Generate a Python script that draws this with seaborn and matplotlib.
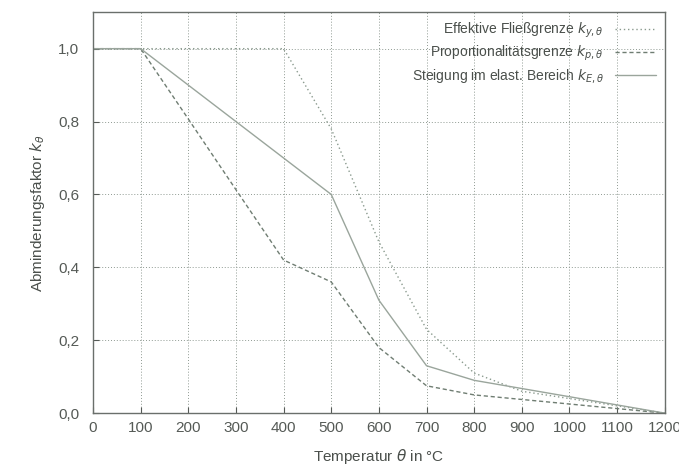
import numpy as np
import pandas as pd
import seaborn as sns
import matplotlib.pyplot as plt
from matplotlib.ticker import FuncFormatter

# temperatures and reduction factors
temp = [0, 100, 200, 300, 400, 500, 600, 700, 800, 900, 1000, 1100, 1200]
k_y = [1.0, 1.0, 1.0, 1.0, 1.0, 0.78, 0.47, 0.23, 0.11, 0.06, 0.04, 0.02, 0.0]
k_p = [1.0, 1.0, 0.807, 0.613, 0.42, 0.36, 0.18, 0.075, 0.05, 0.0375, 0.025, 0.0125, 0.0]
k_E = [1.0, 1.0, 0.9, 0.8, 0.7, 0.6, 0.31, 0.13, 0.09, 0.0675, 0.045, 0.0225, 0.0]

labels = [r"Effektive Fließgrenze $k_{y,\theta}$",
          r"Proportionalitätsgrenze $k_{p,\theta}$",
          r"Steigung im elast. Bereich $k_{E,\theta}$"]

df = pd.DataFrame({"T": temp * 3,
                   "k": k_y + k_p + k_E,
                   "Kurve": [labels[0]] * len(temp) + [labels[1]] * len(temp) + [labels[2]] * len(temp)})

sns.set_style("ticks")
plt.rcParams['font.family'] = ['Liberation Sans', 'DejaVu Sans']
plt.rcParams['mathtext.fontset'] = 'dejavusans'

fig = plt.figure(figsize=(6.79, 4.70), dpi=100)
ax = fig.add_axes([0.137, 0.121, 0.842, 0.853])

sns.lineplot(data=df, x="T", y="k", hue="Kurve", style="Kurve",
             palette=["#8a9a8e", "#6f7d72", "#9aa59c"],
             dashes=[(1, 2), (3, 2), ""], linewidth=1.0, ax=ax)

ax.set_xlim(0, 1200)
ax.set_ylim(0, 1.1)
ax.set_xticks(range(0, 1201, 100))
ax.set_yticks(np.arange(0, 1.01, 0.2))
ax.yaxis.set_major_formatter(FuncFormatter(lambda v, p: f"{v:.1f}".replace(".", ",")))
ax.grid(True, linestyle=(0, (1, 2)), color="#8f9a92", linewidth=0.7)
for s in ax.spines.values():
    s.set_color("#6a6f6b")
    s.set_linewidth(1.0)
ax.tick_params(colors="#555a56", labelsize=11, direction="in", length=4)
ax.tick_params(axis="y", pad=10)
ax.tick_params(axis="x", pad=6)

ax.set_xlabel(r"Temperatur $\theta$ in °C", fontsize=11, color="#4a4f4b", labelpad=8)
ax.set_ylabel(r"Abminderungsfaktor $k_\theta$", fontsize=11, color="#4a4f4b", labelpad=8)

leg = ax.legend(loc="upper right", frameon=False, markerfirst=False,
                fontsize=10, handlelength=3, borderaxespad=0.2, labelspacing=0.3)
for t in leg.get_texts():
    t.set_color("#4a4f4b")

fig.savefig("out.png", dpi=100)
